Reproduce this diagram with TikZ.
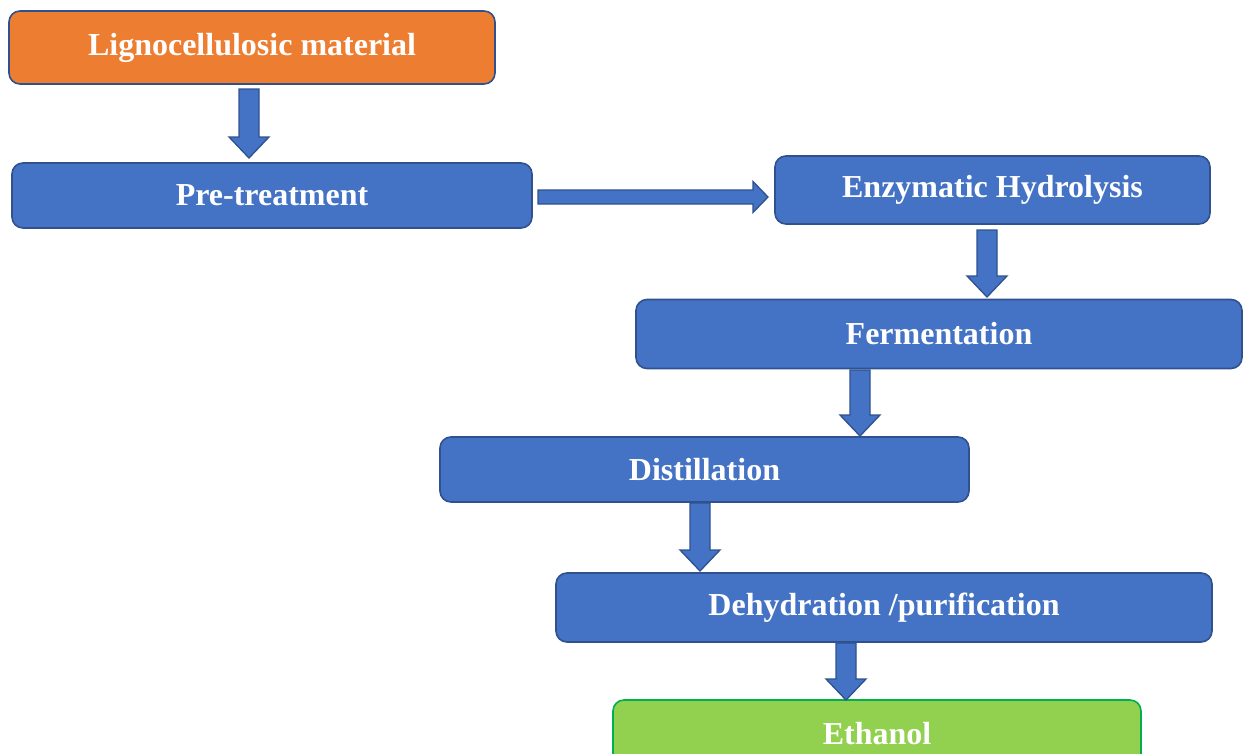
\documentclass[tikz,border=0pt]{standalone}
\usepackage{fontspec}
\setmainfont{Liberation Serif}
\usetikzlibrary{calc}
\definecolor{boxblue}{HTML}{4472C4}
\definecolor{edgeblue}{HTML}{2F528F}
\definecolor{boxorange}{HTML}{ED7D31}
\definecolor{boxgreen}{HTML}{92D050}
\definecolor{edgegreen}{HTML}{00B050}
\tikzset{
  stepbox/.style={draw=edgeblue, fill=boxblue, line width=1.6pt, rounded corners=11pt,
    text=white, font=\fontsize{32}{37}\selectfont\bfseries, inner sep=0pt, anchor=center},
  orangebox/.style={stepbox, fill=boxorange},
  greenbox/.style={stepbox, fill=boxgreen, draw=edgegreen},
  barrow/.style={draw=edgeblue, fill=boxblue, line width=1.3pt, line join=miter},
}
% vertical block arrow: #1 = top of shaft, #2 = tip
\newcommand\vblockarrow[2]{%
  \draw[barrow] let \p1=(#1), \p2=(#2) in
    (\x1-10pt,\y1) -- (\x1+10pt,\y1) -- (\x1+10pt,\y2+21pt) -- (\x1+20pt,\y2+21pt)
    -- (\x1,\y2) -- (\x1-20pt,\y2+21pt) -- (\x1-10pt,\y2+21pt) -- cycle;}
% horizontal block arrow: #1 = start of shaft, #2 = tip
\newcommand\hblockarrow[2]{%
  \draw[barrow] let \p1=(#1), \p2=(#2) in
    (\x1,\y1+7pt) -- (\x2-15pt,\y1+7pt) -- (\x2-15pt,\y1+15.5pt) -- (\x2,\y1)
    -- (\x2-15pt,\y1-15.5pt) -- (\x2-15pt,\y1-7pt) -- (\x1,\y1-7pt) -- cycle;}
\begin{document}
\begin{tikzpicture}[x=1pt,y=-1pt]
\clip (0,0) rectangle (1244,753);
\useasboundingbox (0,0) rectangle (1244,753);

\node[orangebox, minimum width=486pt, minimum height=73pt] (ligno) at (252,47.5) {Lignocellulosic material};
\node[stepbox, minimum width=520pt, minimum height=65pt] (pre) at (272,195.5) {Pre-treatment};
\node[stepbox, minimum width=435pt, minimum height=68pt] (enz) at (992.5,190) {Enzymatic Hydrolysis};
\node[stepbox, minimum width=606pt, minimum height=69pt] (ferm) at (939,334) {Fermentation};
\node[stepbox, minimum width=529pt, minimum height=65pt] (dist) at (704.5,469.5) {Distillation};
\node[stepbox, minimum width=656pt, minimum height=69pt] (dehy) at (884,607.5) {Dehydration /purification};
\node[greenbox, minimum width=528pt, minimum height=68pt] (eth) at (877,734) {Ethanol};

% arrow end points
\coordinate (a1s) at (249,89);   \coordinate (a1e) at (249,158);
\coordinate (a2s) at (538,197);  \coordinate (a2e) at (768,197);
\coordinate (a3s) at (987,230);  \coordinate (a3e) at (987,297);
\coordinate (a4s) at (860,370);  \coordinate (a4e) at (860,436);
\coordinate (a5s) at (700,503);  \coordinate (a5e) at (700,571);
\coordinate (a6s) at (846,643);  \coordinate (a6e) at (846,700);

\vblockarrow{a1s}{a1e}
\hblockarrow{a2s}{a2e}
\vblockarrow{a3s}{a3e}
\vblockarrow{a4s}{a4e}
\vblockarrow{a5s}{a5e}
\vblockarrow{a6s}{a6e}
\end{tikzpicture}
\end{document}
